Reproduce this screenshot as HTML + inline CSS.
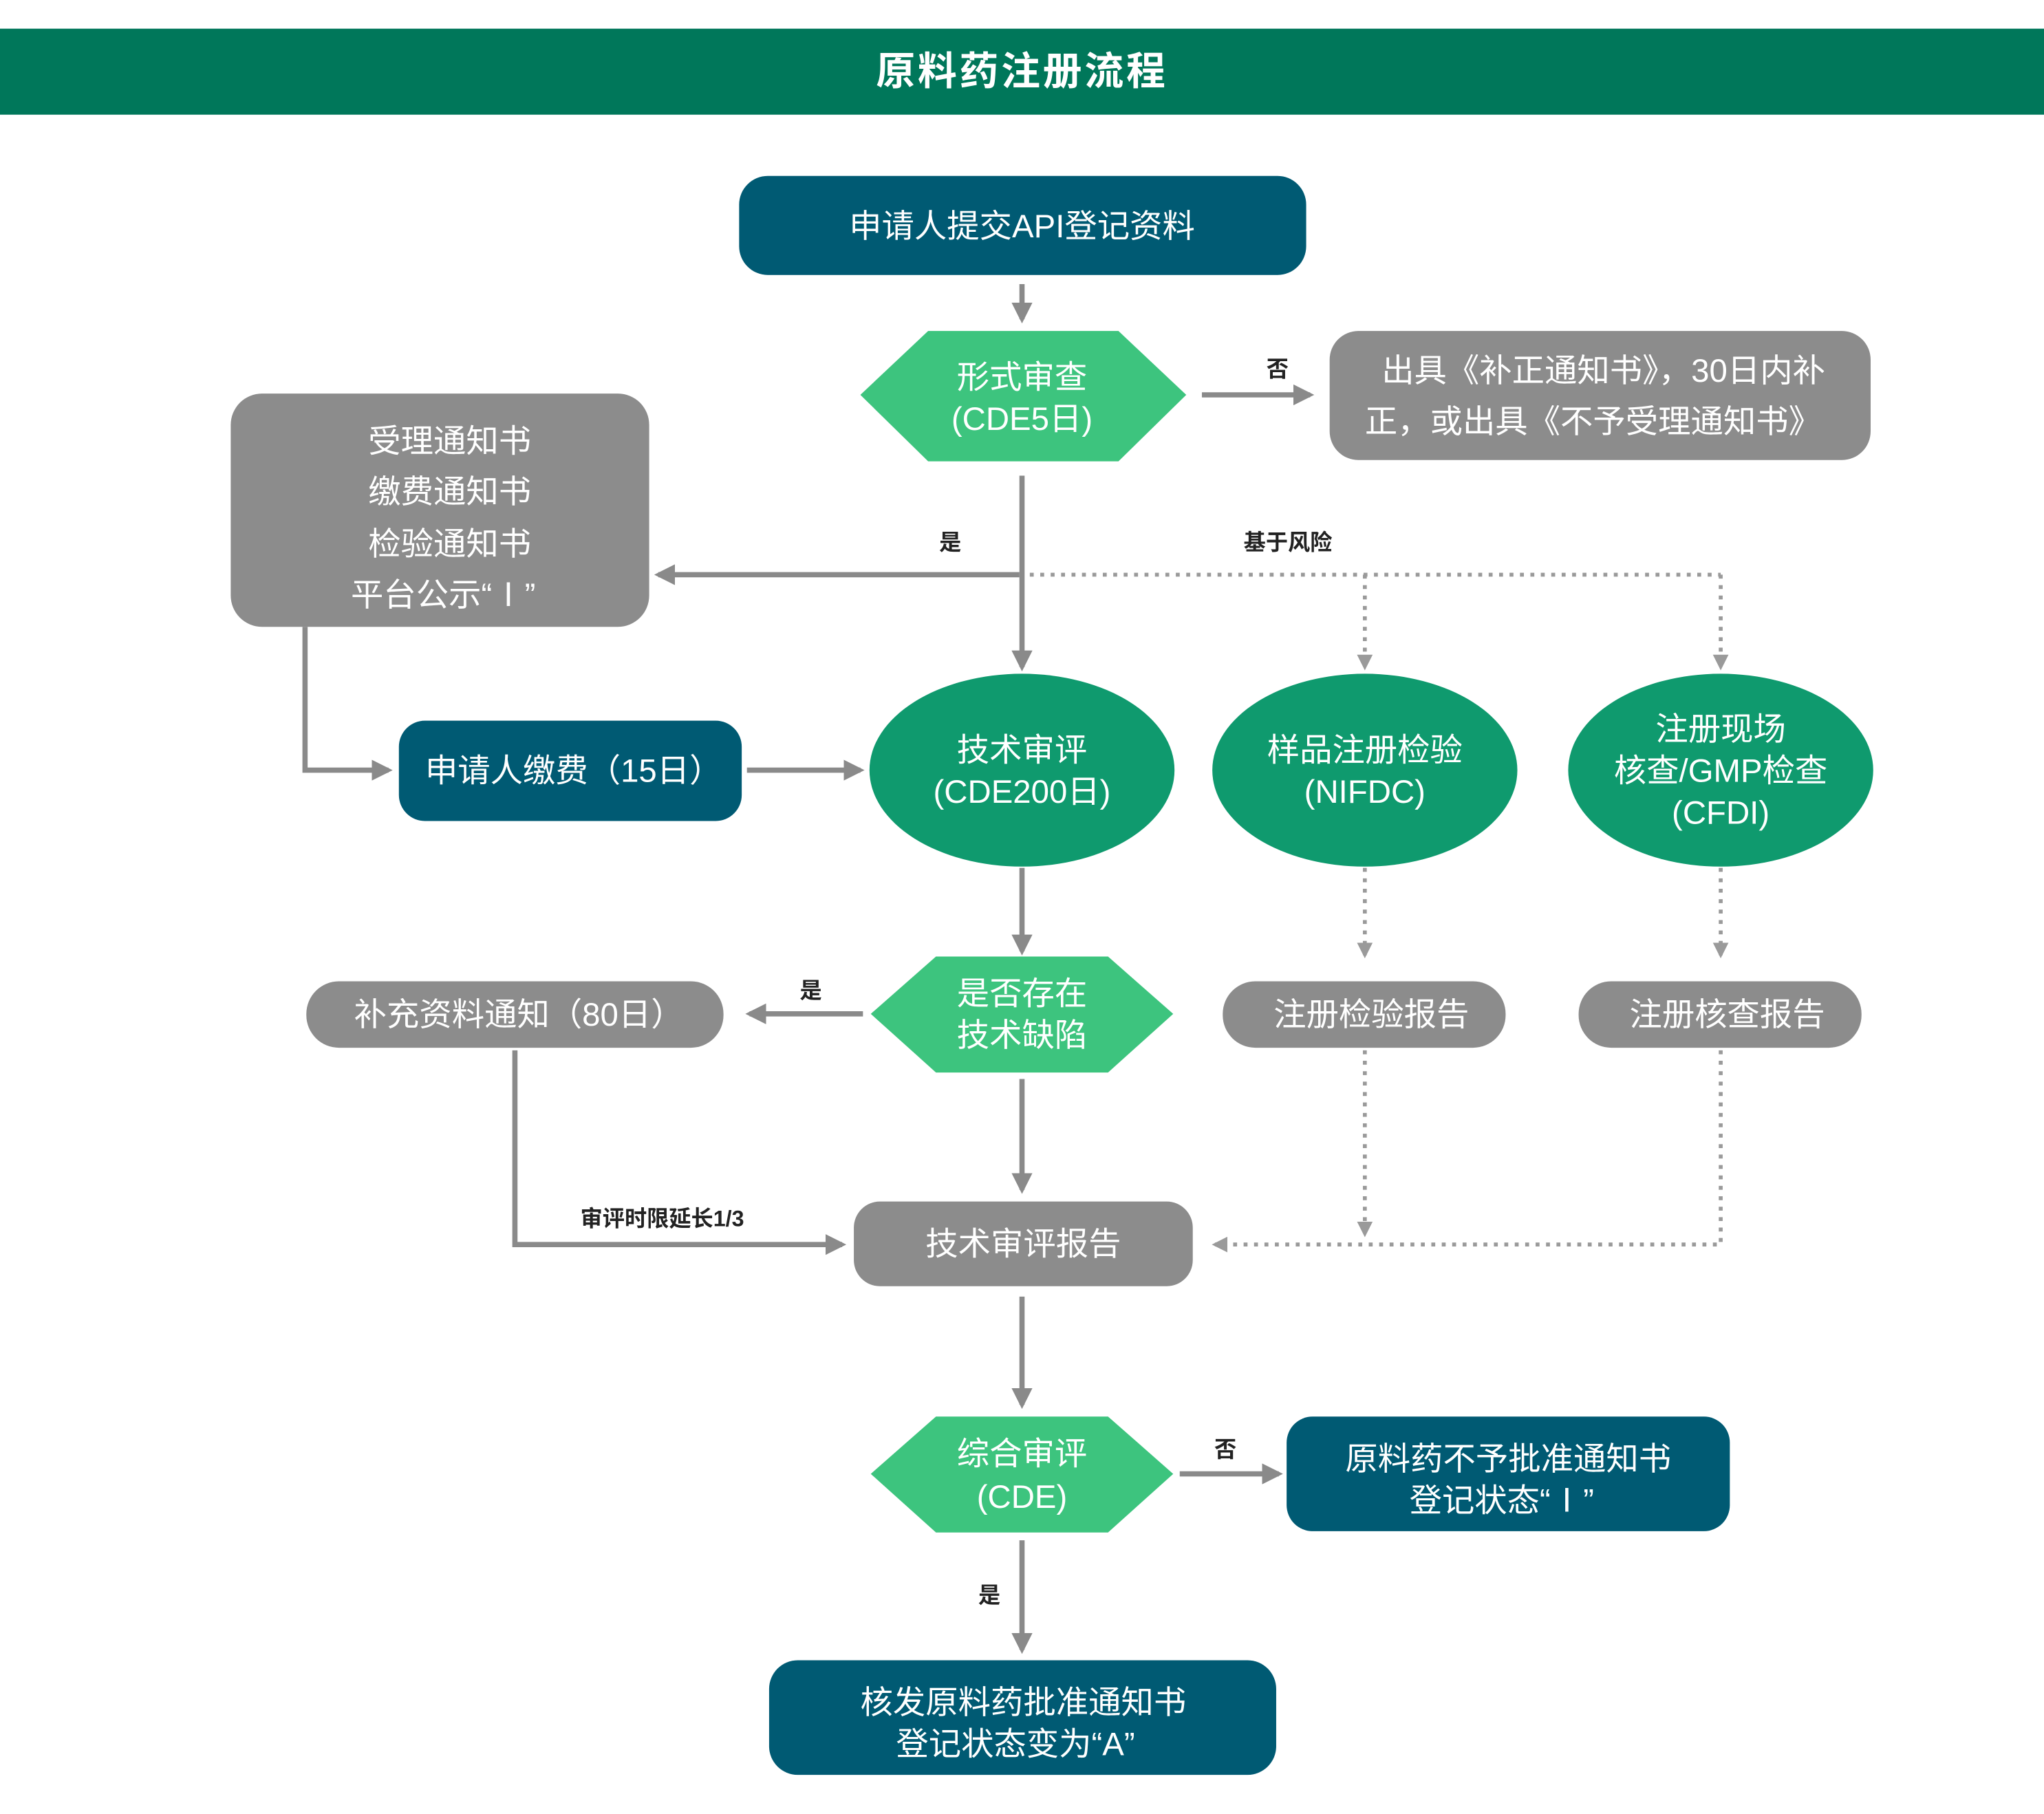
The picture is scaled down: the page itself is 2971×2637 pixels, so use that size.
<!DOCTYPE html>
<html><head><meta charset="utf-8"><style>
html,body{margin:0;padding:0;background:#fff;}
svg{display:block;}
text{font-family:"Liberation Sans","Noto Sans CJK SC",sans-serif;}
</style></head><body>
<svg width="2971" height="2637" viewBox="0 0 1568 1392" preserveAspectRatio="none" xmlns="http://www.w3.org/2000/svg">
<defs>
<marker id="a" viewBox="0 0 10 10" refX="8" refY="5" markerWidth="4" markerHeight="4" orient="auto"><path d="M0,0L10,5L0,10z" fill="#8a8a8a"/></marker>
<marker id="d" viewBox="0 0 10 10" refX="8" refY="5" markerWidth="4" markerHeight="4" orient="auto"><path d="M0,0L10,5L0,10z" fill="#9a9a9a"/></marker>
</defs>
<rect x="0" y="22" width="1568" height="66" fill="#00775a"/>
<text x="784" y="65" font-size="30" font-weight="bold" fill="#fff" text-anchor="middle" letter-spacing="2">原料药注册流程</text>

<g stroke="#8a8a8a" stroke-width="4" fill="none">
<line x1="784" y1="218" x2="784" y2="245" marker-end="url(#a)"/>
<line x1="922" y1="303" x2="1005" y2="303" marker-end="url(#a)"/>
<line x1="784" y1="365" x2="784" y2="512" marker-end="url(#a)"/>
<line x1="782" y1="441" x2="505" y2="441" marker-end="url(#a)"/>
<polyline points="234,481 234,591 298,591" marker-end="url(#a)"/>
<line x1="573" y1="591" x2="660" y2="591" marker-end="url(#a)"/>
<line x1="784" y1="666" x2="784" y2="730" marker-end="url(#a)"/>
<line x1="662" y1="778" x2="575" y2="778" marker-end="url(#a)"/>
<line x1="784" y1="828" x2="784" y2="913" marker-end="url(#a)"/>
<polyline points="395,806 395,955 646,955" marker-end="url(#a)"/>
<line x1="784" y1="995" x2="784" y2="1078" marker-end="url(#a)"/>
<line x1="905" y1="1131" x2="981" y2="1131" marker-end="url(#a)"/>
<line x1="784" y1="1182" x2="784" y2="1266" marker-end="url(#a)"/>
</g>
<g stroke="#9a9a9a" stroke-width="3" fill="none" stroke-dasharray="3 5">
<line x1="790" y1="441" x2="1320" y2="441"/>
<line x1="1047" y1="441" x2="1047" y2="512" marker-end="url(#d)"/>
<line x1="1320" y1="441" x2="1320" y2="512" marker-end="url(#d)"/>
<line x1="1047" y1="666" x2="1047" y2="733" marker-end="url(#d)"/>
<line x1="1320" y1="666" x2="1320" y2="733" marker-end="url(#d)"/>
<line x1="1047" y1="806" x2="1047" y2="947" marker-end="url(#d)"/>
<polyline points="1320,806 1320,955 932,955" marker-end="url(#d)"/>
</g>

<g font-size="17" fill="#222" text-anchor="middle" font-weight="bold">
<text x="980" y="289">否</text>
<text x="729" y="422">是</text>
<text x="988" y="422">基于风险</text>
<text x="622" y="766">是</text>
<text x="508" y="941">审评时限延长1/3</text>
<text x="940" y="1118">否</text>
<text x="759" y="1230">是</text>
</g>

<rect x="567" y="135" width="435" height="76" rx="22" fill="#005a73"/>
<text x="784" y="182" font-size="25" fill="#fff" text-anchor="middle">申请人提交API登记资料</text>

<polygon points="660,303 712,254 858,254 910,303 858,354 712,354" fill="#3dc47e"/>
<text x="784" y="298" font-size="25" fill="#fff" text-anchor="middle">形式审查</text>
<text x="784" y="330" font-size="25" fill="#fff" text-anchor="middle">(CDE5日)</text>

<rect x="1020" y="254" width="415" height="99" rx="22" fill="#8c8c8c"/>
<text x="1230" y="293" font-size="25" fill="#fff" text-anchor="middle">出具《补正通知书》，30日内补</text>
<text x="1222" y="332" font-size="25" fill="#fff" text-anchor="middle">正，或出具《不予受理通知书》</text>

<rect x="177" y="302" width="321" height="179" rx="24" fill="#8c8c8c"/>
<g font-size="25" fill="#fff" text-anchor="middle">
<text x="345" y="347">受理通知书</text>
<text x="345" y="386">缴费通知书</text>
<text x="345" y="426">检验通知书</text>
<text x="340" y="465">平台公示“Ⅰ”</text>
</g>

<rect x="306" y="553" width="263" height="77" rx="20" fill="#005a73"/>
<text x="440" y="600" font-size="25" fill="#fff" text-anchor="middle">申请人缴费（15日）</text>

<ellipse cx="784" cy="591" rx="117" ry="74" fill="#0f9a6e"/>
<text x="784" y="584" font-size="25" fill="#fff" text-anchor="middle">技术审评</text>
<text x="784" y="616" font-size="25" fill="#fff" text-anchor="middle">(CDE200日)</text>
<ellipse cx="1047" cy="591" rx="117" ry="74" fill="#0f9a6e"/>
<text x="1047" y="584" font-size="25" fill="#fff" text-anchor="middle">样品注册检验</text>
<text x="1047" y="616" font-size="25" fill="#fff" text-anchor="middle">(NIFDC)</text>
<ellipse cx="1320" cy="591" rx="117" ry="74" fill="#0f9a6e"/>
<text x="1320" y="568" font-size="25" fill="#fff" text-anchor="middle">注册现场</text>
<text x="1320" y="600" font-size="25" fill="#fff" text-anchor="middle">核查/GMP检查</text>
<text x="1320" y="632" font-size="25" fill="#fff" text-anchor="middle">(CFDI)</text>

<polygon points="668,778 718,734 850,734 900,778 850,823 718,823" fill="#3dc47e"/>
<text x="784" y="771" font-size="25" fill="#fff" text-anchor="middle">是否存在</text>
<text x="784" y="803" font-size="25" fill="#fff" text-anchor="middle">技术缺陷</text>

<rect x="235" y="753" width="320" height="51" rx="25" fill="#8c8c8c"/>
<text x="398" y="787" font-size="25" fill="#fff" text-anchor="middle">补充资料通知（80日）</text>
<rect x="938" y="753" width="217" height="51" rx="25" fill="#8c8c8c"/>
<text x="1052" y="787" font-size="25" fill="#fff" text-anchor="middle">注册检验报告</text>
<rect x="1211" y="753" width="217" height="51" rx="25" fill="#8c8c8c"/>
<text x="1325" y="787" font-size="25" fill="#fff" text-anchor="middle">注册核查报告</text>

<rect x="655" y="922" width="260" height="65" rx="20" fill="#8c8c8c"/>
<text x="785" y="963" font-size="25" fill="#fff" text-anchor="middle">技术审评报告</text>

<polygon points="668,1131 718,1087 850,1087 900,1131 850,1176 718,1176" fill="#3dc47e"/>
<text x="784" y="1124" font-size="25" fill="#fff" text-anchor="middle">综合审评</text>
<text x="784" y="1157" font-size="25" fill="#fff" text-anchor="middle">(CDE)</text>

<rect x="987" y="1087" width="340" height="88" rx="20" fill="#005a73"/>
<text x="1157" y="1128" font-size="25" fill="#fff" text-anchor="middle">原料药不予批准通知书</text>
<text x="1152" y="1160" font-size="25" fill="#fff" text-anchor="middle">登记状态“Ⅰ”</text>

<rect x="590" y="1274" width="389" height="88" rx="22" fill="#005a73"/>
<text x="785" y="1315" font-size="25" fill="#fff" text-anchor="middle">核发原料药批准通知书</text>
<text x="779" y="1347" font-size="25" fill="#fff" text-anchor="middle">登记状态变为“A”</text>
</svg>
</body></html>
